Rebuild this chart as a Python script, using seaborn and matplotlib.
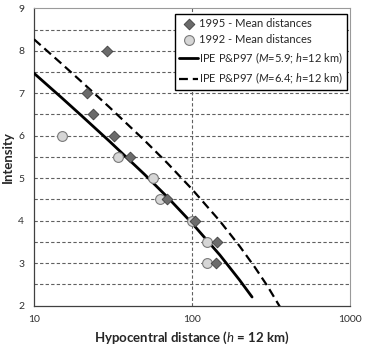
import numpy as np
import pandas as pd
import matplotlib
matplotlib.use("Agg")
import matplotlib.pyplot as plt
import matplotlib.ticker as mticker
import seaborn as sns

# ---- data ----
d1995 = [29, 21.5, 23.5, 32, 40.5, 69, 104, 145, 142]
i1995 = [8.0, 7.0, 6.5, 6.0, 5.5, 4.5, 4.0, 3.5, 3.0]

d1992 = [15, 34, 57, 63, 99.5, 125, 125]
i1992 = [6.0, 5.5, 5.0, 4.5, 4.0, 3.5, 3.0]

ipe59_d = [10, 15, 20, 30, 50, 70, 100, 150, 200, 240]
ipe59_i = [7.47, 6.89, 6.47, 5.87, 5.09, 4.55, 3.94, 3.19, 2.60, 2.20]

ipe64_d = [10, 15, 20, 30, 50, 70, 100, 150, 200, 250, 300, 360]
ipe64_i = [8.27, 7.69, 7.27, 6.67, 5.89, 5.35, 4.74, 3.99, 3.40, 2.90, 2.46, 1.97]

labels = ["1995 - Mean distances", "1992 - Mean distances",
          r"IPE P&P97 ($\mathit{M}$=5.9; $\mathit{h}$=12 km)",
          r"IPE P&P97 ($\mathit{M}$=6.4; $\mathit{h}$=12 km)"]

sns.set_style("white")
plt.rcParams["font.family"] = ["Lato", "DejaVu Sans"]
plt.rcParams["mathtext.fontset"] = "custom"
plt.rcParams["mathtext.rm"] = "Lato"
plt.rcParams["mathtext.it"] = "Lato:italic"
plt.rcParams["mathtext.bf"] = "Lato:bold"

fig = plt.figure(figsize=(3.66, 3.47), dpi=100)
ax = fig.add_axes([34 / 366, 1 - 305.5 / 347, (350 - 34) / 366, (305.5 - 8.3) / 347])

df59 = pd.DataFrame({"d": ipe59_d, "i": ipe59_i})
df64 = pd.DataFrame({"d": ipe64_d, "i": ipe64_i})
df95 = pd.DataFrame({"d": d1995, "i": i1995})
df92 = pd.DataFrame({"d": d1992, "i": i1992})

ax.set_xscale("log")
ax.set_xlim(10, 1000)
ax.set_ylim(2, 9)

# gridlines
for y in np.arange(2.5, 9.0, 0.5):
    ax.axhline(y, color="#606060", lw=0.8, ls=(0, (3, 2)), zorder=0)
ax.axvline(100, color="#606060", lw=0.8, ls=(0, (3, 2)), zorder=0)

sns.lineplot(data=df59, x="d", y="i", ax=ax, color="black", lw=2.0,
             sort=False, estimator=None, label=labels[2], zorder=3)
sns.lineplot(data=df64, x="d", y="i", ax=ax, color="black", lw=1.6,
             sort=False, estimator=None, label=labels[3], zorder=3)
ax.lines[-1].set_linestyle((0, (4, 2.2)))

sns.scatterplot(data=df95, x="d", y="i", ax=ax, marker="D", s=30,
                color="#6b6b6b", edgecolor="#404040", linewidth=0.6,
                label=labels[0], zorder=5)
sns.scatterplot(data=df92, x="d", y="i", ax=ax, marker="o", s=50,
                color="#d6d6d6", edgecolor="#7a7a7a", linewidth=0.8,
                label=labels[1], zorder=4)

ax.set_xlim(10, 1000)
ax.set_ylim(2, 9)

# ticks
ax.yaxis.set_major_locator(mticker.MultipleLocator(1))
ax.xaxis.set_major_locator(mticker.LogLocator(base=10, numticks=5))
ax.xaxis.set_minor_locator(mticker.LogLocator(base=10, subs=np.arange(2, 10), numticks=20))
ax.xaxis.set_major_formatter(mticker.FuncFormatter(lambda v, p: f"{v:g}"))
ax.xaxis.set_minor_formatter(mticker.NullFormatter())
ax.tick_params(axis="both", which="major", direction="out", length=4, width=0.8,
               color="#404040", labelsize=7.5, labelcolor="#303030", pad=3)
ax.tick_params(axis="x", which="minor", direction="out", length=2.5, width=0.7,
               color="#404040")
ax.tick_params(axis="x", which="major", pad=3)

for s in ["left", "bottom"]:
    ax.spines[s].set_color("#404040")
    ax.spines[s].set_linewidth(0.9)
for s in ["top", "right"]:
    ax.spines[s].set_color("#9a9a9a")
    ax.spines[s].set_linewidth(0.8)

ax.set_xlabel(r"Hypocentral distance ($\mathbf{\mathit{h}}$ = 12 km)",
              fontsize=9.5, fontweight="bold", labelpad=4)
ax.set_ylabel("Intensity", fontsize=9.5, fontweight="bold", labelpad=3)

h, l = ax.get_legend_handles_labels()
order = [l.index(x) for x in labels]
leg = ax.legend([h[k] for k in order], [l[k] for k in order],
                loc="upper right", bbox_to_anchor=(0.995, 0.985), fontsize=8,
                frameon=True, fancybox=False, shadow=False,
                edgecolor="black", framealpha=1, borderpad=0.35,
                labelspacing=0.45, handlelength=1.7, handletextpad=0.1,
                borderaxespad=0.15)
leg.get_frame().set_linewidth(1.0)

fig.savefig("out.png", dpi=100)
